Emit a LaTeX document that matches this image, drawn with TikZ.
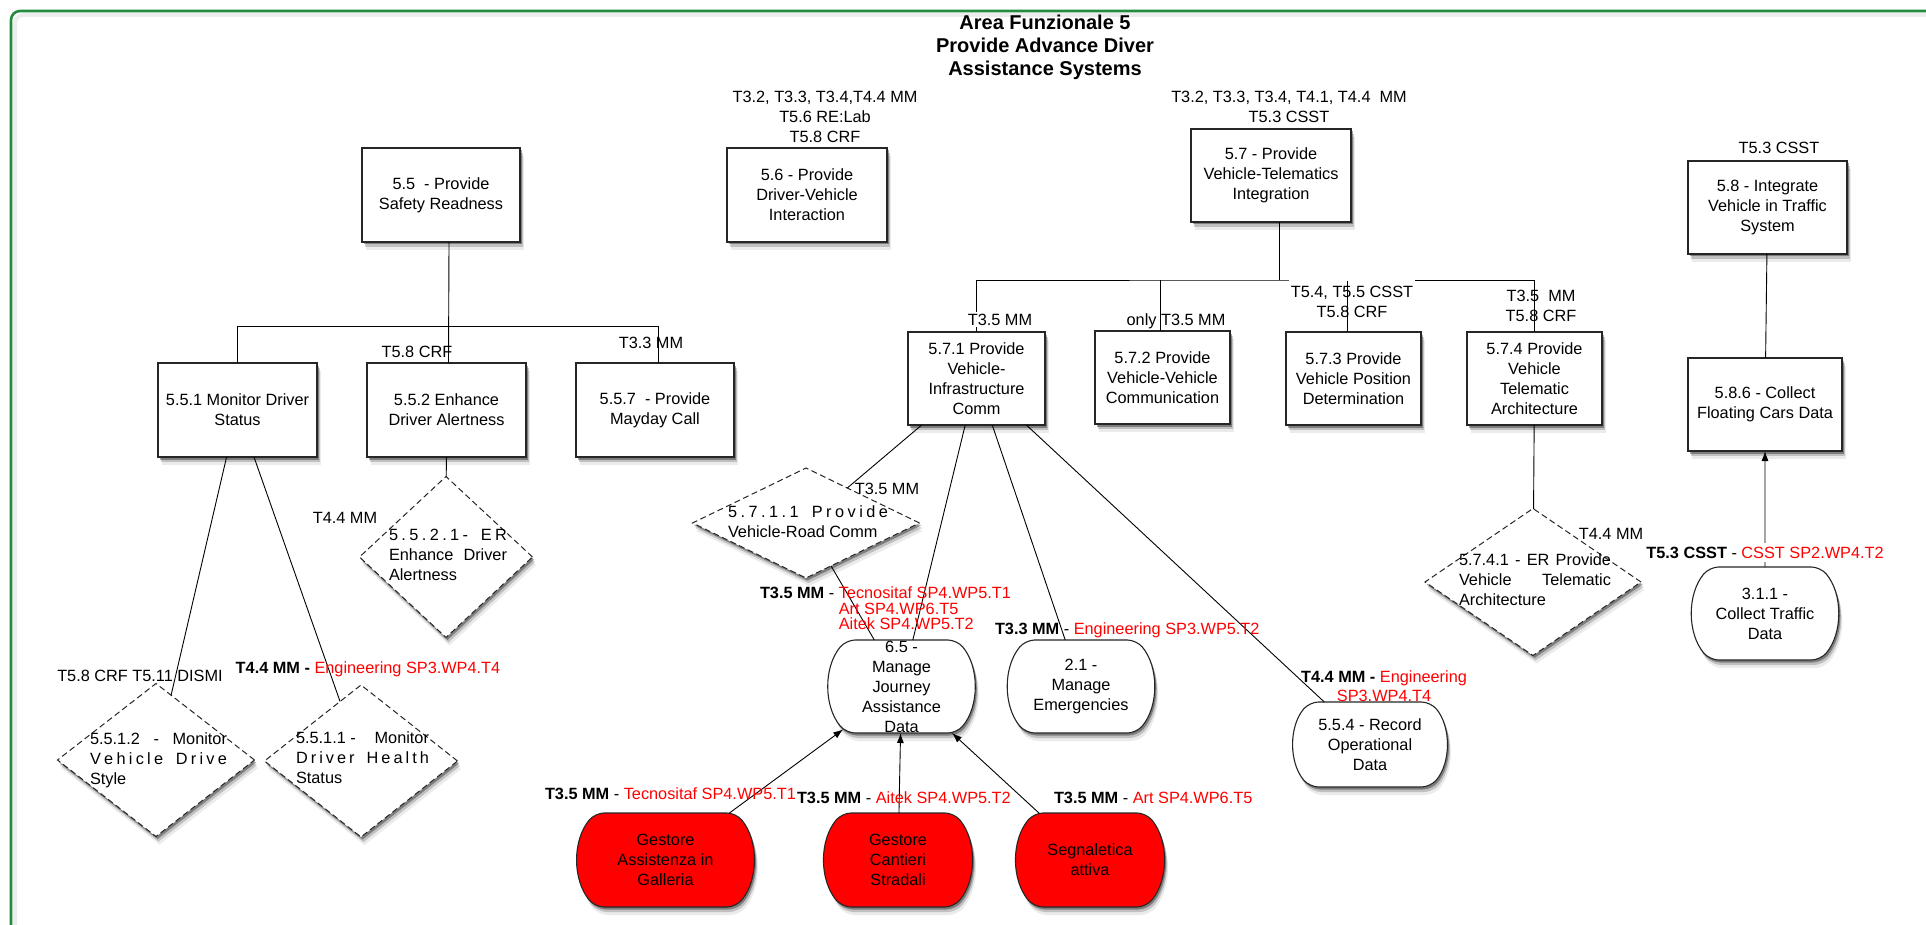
\documentclass[tikz,border=0pt]{standalone}
\usepackage{fontspec}
\setmainfont{Liberation Sans}
\usetikzlibrary{shapes.geometric,shapes.misc,shadows,arrows.meta,calc}
\definecolor{framegreen}{RGB}{36,138,61}
\definecolor{tred}{RGB}{255,0,0}
\newcommand{\rt}[1]{\textcolor{tred}{#1}}
\newcommand{\lsp}{\hspace{0pt plus 1fil}}
\newcommand{\wsp}{\hspace{6pt plus 2fil}}
\begin{document}
\begin{tikzpicture}[x=1pt,y=-1pt,
  every node/.style={font=\fontsize{16.3}{20}\selectfont, inner sep=0pt, outer sep=0pt},
  shad/.style={drop shadow={shadow xshift=1.5pt,shadow yshift=-2.5pt,opacity=0.35,fill=black},
               drop shadow={shadow xshift=2.5pt,shadow yshift=-5pt,opacity=0.18,fill=black},
               drop shadow={shadow xshift=3.5pt,shadow yshift=-8pt,opacity=0.08,fill=black}},
  taskbox/.style={rectangle, draw=black!85, line width=1.2pt, fill=white, shad, align=center, minimum height=93pt},
  erdiam/.style={diamond, draw=black!85, line width=1pt, dash pattern=on 6pt off 3.5pt, fill=white, shad},
  datanode/.style={rounded rectangle, rounded rectangle arc length=80, rounded corners=9pt, draw=black!85, line width=1.1pt, fill=white, shad, align=center, minimum height=93pt},
  rednode/.style={datanode, fill=tred},
  conn/.style={draw=black, line width=0.9pt, sharp corners},
  arr/.style={conn, -{Latex[length=10pt,width=7pt]}},
  lbl/.style={anchor=base},
  dtext/.style={align=left},
]
\useasboundingbox (0,0) rectangle (1926,925);
\clip (0,0) rectangle (1926,925);
\fill[white] (0,0) rectangle (1926,925);
\draw[black!7, line width=4pt, rounded corners=8pt] (15,15) rectangle (1990,990);
\draw[framegreen, line width=2.6pt, rounded corners=9pt] (11,11) rectangle (1990,990);

\node[font=\bfseries\fontsize{20}{23}\selectfont, align=center] (title) at (1045,47) {Area Funzionale 5\\Provide Advance Diver\\Assistance Systems};

% task boxes
\node[taskbox, minimum width=158pt, minimum height=94pt] (b55) at (441,195) {5.5~~- Provide\\Safety Readness};
\node[taskbox, minimum width=160pt, minimum height=94pt] (b56) at (807,195) {5.6 - Provide\\Driver-Vehicle\\Interaction};
\node[taskbox, minimum width=160pt] (b57) at (1271,175.5) {5.7 - Provide\\Vehicle-Telematics\\Integration};
\node[taskbox, minimum width=159pt] (b58) at (1767.5,207.5) {5.8 - Integrate\\Vehicle in Traffic\\System};
\node[taskbox, minimum width=159pt, minimum height=94pt] (b551) at (237.5,410) {5.5.1 Monitor Driver\\Status};
\node[taskbox, minimum width=159pt, minimum height=94pt] (b552) at (446.5,410) {5.5.2 Enhance\\Driver Alertness};
\node[taskbox, minimum width=158pt, minimum height=94pt] (b557) at (655,410) {5.5.7~~- Provide\\Mayday Call};
\node[taskbox, minimum width=137pt] (b571) at (976.5,378.5) {5.7.1 Provide\\Vehicle-\\Infrastructure\\Comm};
\node[taskbox, minimum width=135pt] (b572) at (1162.5,377.5) {5.7.2 Provide\\Vehicle-Vehicle\\Communication};
\node[taskbox, minimum width=135pt] (b573) at (1353.5,378.5) {5.7.3 Provide\\Vehicle Position\\Determination};
\node[taskbox, minimum width=135pt] (b574) at (1534.5,378.5) {5.7.4 Provide\\Vehicle\\Telematic\\Architecture};
\node[taskbox, minimum width=154pt] (b586) at (1765,404.5) {5.8.6 - Collect\\Floating Cars Data};

% diamonds
\node[erdiam, minimum width=197pt, minimum height=153pt] (d5512) at (156,760) {};
\node[erdiam, minimum width=193pt, minimum height=152pt] (d5511) at (361,761) {};
\node[erdiam, minimum width=173pt, minimum height=161pt] (d5521) at (446,557) {};
\node[erdiam, minimum width=227pt, minimum height=110pt] (d5711) at (806,523) {};
\node[erdiam, minimum width=216pt, minimum height=147pt] (d5741) at (1533,582) {};

\node[dtext] (d5512t) at (158.5,760) {\makebox[137pt][s]{5.5.1.2\wsp-\wsp Monitor}\\\makebox[137pt][s]{V\lsp e\lsp h\lsp i\lsp c\lsp l\lsp e\wsp D\lsp r\lsp i\lsp v\lsp e}\\Style};
\node[dtext] (d5511t) at (362.5,758) {\makebox[133pt][s]{5.5.1.1 -\wsp Monitor}\\\makebox[133pt][s]{D\lsp r\lsp i\lsp v\lsp e\lsp r\wsp H\lsp e\lsp a\lsp l\lsp t\lsp h}\\Status};
\node[dtext] (d5521t) at (448,555) {\makebox[118pt][s]{5\lsp.\lsp 5\lsp.\lsp 2\lsp.\lsp 1\lsp -\wsp E\lsp R}\\\makebox[118pt][s]{Enhance Driver}\\Alertness};
\node[dtext] (d5711t) at (808,522) {\makebox[160pt][s]{5\lsp.\lsp 7\lsp.\lsp 1\lsp.\lsp 1\wsp P\lsp r\lsp o\lsp v\lsp i\lsp d\lsp e}\\Vehicle-Road Comm};
\node[dtext] (d5741t) at (1535,580) {\makebox[152pt][s]{5.7.4.1 - ER Provide}\\\makebox[152pt][s]{Vehicle Telematic}\\Architecture};

% data nodes
\node[datanode, minimum width=137pt] (r65) at (901.5,686.5) {6.5 -\\Manage\\Journey\\Assistance\\Data};
\node[datanode, minimum width=136pt] (r21) at (1081,686.5) {2.1 -\\Manage\\Emergencies};
\node[datanode, minimum width=152pt, minimum height=85pt] (r554) at (1370,744.5) {5.5.4 - Record\\Operational\\Data};
\node[datanode, minimum width=142pt] (r311) at (1765,613.5) {3.1.1 -\\Collect Traffic\\Data};
\node[rednode, minimum width=175pt, minimum height=94pt] (red1) at (665.5,860) {Gestore\\Assistenza in\\Galleria};
\node[rednode, minimum width=110pt, minimum height=94pt] (red2) at (898,860) {Gestore\\Cantieri\\Stradali};
\node[rednode, minimum width=126pt, minimum height=94pt] (red3) at (1090,860) {Segnaletica\\attiva};

% connectors
\draw[conn] ($(b55.south)+(8,0)$) -- ($(b552.north)+(2,0)$);
\draw[conn] (b551.north) -- ++(0,-37) -| ($(b557.north)+(3,0)$);
\draw[conn] (b551) -- (d5512);
\draw[conn] (b551) -- (d5511);
\draw[conn] (b552) -- (d5521);
\coordinate (j57) at ($(b57.south)+(8,58)$);
\draw[conn] ($(b57.south)+(8,0)$) -- (j57);
\draw[conn] (b571.north) |- (j57) -| (b574.north);
\draw[conn] ($(b572.north)+(-2,0)$) -- ($(b572.north)+(-2,-51)$);
\draw[conn] (b571) -- (d5711);
\draw[conn] (d5711) -- (r65);
\draw[conn] (b571) -- (r65);
\draw[conn] (b571) -- (r21);
\draw[conn] (b571) -- (r554);
\draw[conn] (b574) -- (d5741);
\draw[conn] (b58) -- (b586);
\draw[arr] (r311) -- (b586);
\draw[arr] (red1) -- (r65);
\draw[arr] (red2) -- (r65);
\draw[arr] (red3) -- (r65);

% labels
\node[align=center, anchor=north] (l56) at (825,91) {T3.2, T3.3, T3.4,T4.4 MM\\T5.6 RE:Lab\\T5.8 CRF};
\node[align=center, anchor=north] (l57) at (1289,91) {T3.2, T3.3, T3.4, T4.1, T4.4~~MM\\T5.3 CSST};
\node[lbl] (l58) at (1779,154) {T5.3 CSST};
\node[lbl] (l552) at (417,357) {T5.8 CRF};
\node[lbl] (l557) at (651,348) {T3.3 MM};
\node[lbl, fill=white, inner sep=2pt] (l571) at (1000,325) {T3.5 MM};
\node[lbl] (l572) at (1176,325) {only T3.5 MM};
\node[align=center, anchor=north] (l574) at (1541,290) {T3.5~~MM\\T5.8 CRF};
\node[lbl] (l5512) at (140,681) {T5.8 CRF T5.11 DISMI};
\node[lbl] (l5511) at (368,673) {\textbf{T4.4 MM -} \rt{Engineering SP3.WP4.T4}};
\node[lbl] (l5521) at (345,523) {T4.4 MM};
\node[lbl] (l5711) at (887,494) {T3.5 MM};
\node[lbl] (l5741) at (1611,539) {T4.4 MM};
\node[align=left, anchor=north west, font=\fontsize{16.3}{15.5}\selectfont] (l65) at (760,587) {\textbf{T3.5 MM} - \rt{Tecnositaf SP4.WP5.T1}\\\hphantom{\textbf{T3.5 MM} - }\rt{Art SP4.WP6.T5}\\\hphantom{\textbf{T3.5 MM} - }\rt{Aitek SP4.WP5.T2}};
\node[lbl, anchor=base west] (l21) at (995,634) {\textbf{T3.3 MM} - \rt{Engineering SP3.WP5.T2}};
\node[align=center, anchor=north, font=\fontsize{16.3}{19}\selectfont] (l554) at (1384,671) {\textbf{T4.4 MM -} \rt{Engineering}\\\rt{SP3.WP4.T4}};
\node[lbl, fill=white, inner sep=4pt] (l311) at (1765,558) {\textbf{T5.3 CSST} - \rt{CSST SP2.WP4.T2}};
\node[lbl, anchor=base west] (lr1) at (545,799) {\textbf{T3.5 MM} - \rt{Tecnositaf SP4.WP5.T1}};
\node[lbl, anchor=base west] (lr2) at (797,803) {\textbf{T3.5 MM} - \rt{Aitek SP4.WP5.T2}};
\node[lbl, anchor=base west] (lr3) at (1054,803) {\textbf{T3.5 MM} - \rt{Art SP4.WP6.T5}};
\node[align=center, anchor=north, fill=white, inner xsep=2pt, inner ysep=7pt] (l573) at (1352,279) {T5.4, T5.5 CSST\\T5.8 CRF};
\draw[conn] ($(b573.north)+(-6,0)$) -- ($(b573.north)+(-6,-51)$);
\end{tikzpicture}
\end{document}
